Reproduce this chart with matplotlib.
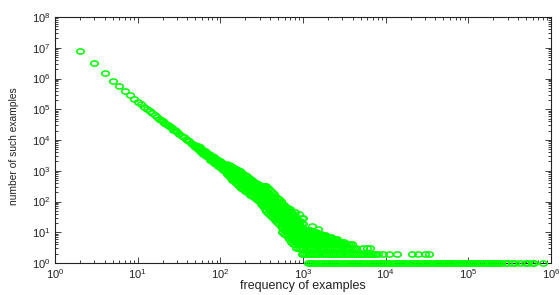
import matplotlib
matplotlib.use("Agg")
import matplotlib.pyplot as plt
from matplotlib.path import Path
import matplotlib.transforms as mtrans
from matplotlib.ticker import LogLocator, NullFormatter, LogFormatterMathtext

plt.rcParams['font.family'] = ['Liberation Sans', 'DejaVu Sans']
plt.rcParams['mathtext.fontset'] = 'custom'
plt.rcParams['mathtext.rm'] = 'Liberation Sans'
plt.rcParams['mathtext.it'] = 'Liberation Sans:italic'
plt.rcParams['mathtext.bf'] = 'Liberation Sans:bold'

# ---------------- data ----------------
head_freq = [2, 3, 4, 5, 6, 7, 8, 9, 10, 11, 12, 13, 14, 15, 16, 17, 18, 19, 20]
head_count = [7.8e6, 3.2e6, 1.5e6, 8.5e5, 5.7e5, 4.0e5, 2.9e5, 2.2e5, 1.75e5, 1.43e5,
              1.18e5, 1.0e5, 8.5e4, 7.3e4, 6.4e4, 5.6e4, 5.0e4, 4.4e4, 4.0e4]

band_freq = [21, 22, 23, 24, 25, 26, 27, 28, 29, 30, 32, 34, 36, 38, 40, 42, 44, 46, 48, 50,
             53, 56, 59, 62, 65, 68, 72, 76, 80, 84, 88, 93, 98, 103, 108, 114, 120, 126, 133, 140,
             147, 155, 163, 171, 180, 189, 199, 209, 220, 231, 243, 255, 268, 282, 296, 311, 327, 344, 361, 380,
             399, 419, 440, 462, 486, 510, 536, 563, 591, 621, 652, 685, 719, 755, 793, 833, 875, 919, 965, 1013]
band_count = [36300, 33100, 30200, 27800, 25600, 23700, 21900, 20400, 19000, 17800, 15600, 13800, 12300, 11100, 10000, 9070, 8260, 7560, 6940, 6400,
              5700, 5100, 4600, 4160, 3790, 3460, 3090, 2770, 2500, 2270, 2070, 1850, 1670, 1510, 1370, 1230, 1110, 1010, 905, 816,
              740, 666, 602, 547, 494, 448, 404, 366, 331, 300, 271, 246, 223, 201, 183, 165, 150, 135, 123, 107,
              93, 81, 71, 62, 53, 47, 41, 35, 31, 27, 24, 20, 18, 16, 14, 12, 10, 9, 8, 7]

# band edges (upper / lower spread of the cloud), same frequencies as the band from a start index
upper1_count = [7040, 6330, 5710, 5200, 4740, 4360, 4010, 3620, 3270, 2980, 2720, 2500, 2260, 2060, 1880, 1720,
                1560, 1420, 1300, 1180, 1080, 977, 879, 795, 722, 652, 591, 533, 483, 437, 396, 358, 325, 294,
                265, 242, 218, 198, 178, 162, 141, 123, 107, 94, 82, 70, 62, 54, 46, 41, 36, 32, 26, 24, 21, 18,
                16, 13, 12, 11, 9]
lower1_count = [5820, 5130, 4540, 4050, 3620, 3260, 2940, 2600, 2300, 2050, 1840, 1660, 1470, 1320, 1190, 1070,
                955, 860, 780, 696, 620, 562, 506, 458, 416, 375, 340, 307, 278, 252, 228, 206, 187, 169, 153,
                139, 125, 114, 103, 93, 81, 71, 62, 54, 47, 40, 36, 31, 27, 24, 21, 18, 15, 14, 12, 11, 9, 8, 7,
                6, 5]
upper2_count = [1610, 1515, 1400, 1306, 1220, 1130, 1050, 974, 879, 797, 719, 651, 589, 534, 482, 438, 397, 358,
                326, 294, 267, 240, 219, 190, 166, 144, 126, 110, 94, 84, 73, 62, 55, 48, 43, 36, 32, 28, 25, 21,
                18, 16, 14, 12]
lower2_count = [766, 677, 584, 510, 448, 393, 346, 306, 277, 251, 226, 205, 185, 168, 152, 138, 125, 113, 102, 92,
                84, 76, 69, 60, 52, 45, 40, 35, 30, 26, 23, 20, 17, 15, 13, 11, 10, 9, 8, 7, 6, 5, 4, 4]
upper3_count = [330, 323, 310, 308, 268, 233, 203, 178, 155, 133, 118, 103, 88, 78, 68, 60, 50, 45, 40, 35, 30,
                25, 23, 20, 18]
lower3_count = [83, 69, 57, 49, 43, 37, 32, 28, 25, 21, 19, 16, 14, 12, 11, 10, 8, 7, 6, 6, 5, 4, 4, 3, 3]
lower4_count = [10, 9, 8, 7, 6, 5, 4, 4, 3, 3, 3, 2, 2]

upper1_freq = band_freq[19:]
lower1_freq = band_freq[19:]
upper2_freq = band_freq[36:]
lower2_freq = band_freq[36:]
upper3_freq = band_freq[55:]
lower3_freq = band_freq[55:]
lower4_freq = band_freq[67:]

outlier_freq = [700, 800, 900, 960, 1000, 1300, 1500]
outlier_count = [55, 45, 38, 30, 28, 16, 13]

# rows of small integer counts beyond ~1000
tail_grid = [1080, 1150, 1220, 1290, 1370, 1450, 1540, 1630, 1730, 1830, 1940, 2060, 2180, 2310, 2450,
             2600, 2750, 2920, 3100, 3280, 3480, 3690, 3910, 4140, 4390]
tail_row_count = [3, 4, 5, 6, 7, 8, 9, 10, 11, 12]
tail_row_maxfreq = [4390, 3910, 3100, 2600, 2180, 1830, 1630, 1450, 1290, 1220]
row3_extra_freq = [5300, 5900, 6500]

row2_freq = [1050, 1110, 1180, 1250, 1330, 1410, 1490, 1580, 1680, 1780, 1880, 2000, 2120, 2240, 2380, 2520,
             2670, 2830, 3000, 3180, 3370, 3570, 3790, 4010, 4250, 4510, 4780, 5070, 5370, 5690, 6030, 6400,
             6780, 7180, 7610, 8070, 9300, 10900, 13600, 20700, 24500, 29600, 33300]

row1_freq = [1150, 1220, 1290, 1370, 1450, 1540, 1630, 1730, 1830, 1940, 2060, 2180, 2310, 2450, 2600, 2750,
             2920, 3100, 3280, 3480, 3690, 3910, 4140, 4390, 4650, 4930, 5230, 5540, 5870, 6230, 6600, 7000,
             7420, 7860, 8330, 8830, 9360, 9920, 10500, 11100, 11800, 12500, 13300, 14100, 14900, 15800, 16800,
             17800, 18900, 20000, 21200, 22500, 23800, 25200, 26700, 28300, 30000, 31800, 33700, 35700, 37900,
             40200, 42600, 45100, 47800, 50700, 53700, 56900, 60300, 64000, 67800, 71900, 76200, 80700, 85600,
             90700, 96200, 102000, 108000, 114000, 121000, 129000, 136000, 148000, 160000, 170000, 180000,
             190000, 200000, 212000, 225000, 238000, 251000, 275000, 302000, 339000, 363000, 417000, 479000,
             525000, 589000, 631000, 794000]

x_label = "frequency of examples"
y_label = "number of such examples"

# ---------------- figure ----------------
fig = plt.figure(figsize=(5.6, 2.95), dpi=100)
ax = fig.add_axes([55 / 560, 1 - 263 / 295, (551 - 55) / 560, (263 - 17) / 295])

ell = Path.unit_circle().transformed(mtrans.Affine2D().scale(1.45, 1.0))
green = '#00ff00'
style = dict(linestyle='none', marker=ell, mfc='none', mec=green, ms=5.4, mew=1.1,
             clip_on=False, zorder=3)

series = [
    (head_freq, head_count),
    (band_freq, band_count),
    (upper1_freq, upper1_count),
    (lower1_freq, lower1_count),
    (upper2_freq, upper2_count),
    (lower2_freq, lower2_count),
    (upper3_freq, upper3_count),
    (lower3_freq, lower3_count),
    (lower4_freq, lower4_count),
    (outlier_freq, outlier_count),
]
for fx, fy in series:
    ax.plot(fx, fy, **style)

for cnt, fmax in zip(tail_row_count, tail_row_maxfreq):
    xs = [f for f in tail_grid if f <= fmax]
    ax.plot(xs, [cnt] * len(xs), **style)
ax.plot(row3_extra_freq, [3] * len(row3_extra_freq), **style)
ax.plot(row2_freq, [2] * len(row2_freq), **style)
ax.plot(row1_freq, [1] * len(row1_freq), **style)

ax.set_xscale('log')
ax.set_yscale('log')
ax.set_xlim(1, 1e6)
ax.set_ylim(1, 1e8)
ax.xaxis.set_major_locator(LogLocator(base=10, numticks=20))
ax.yaxis.set_major_locator(LogLocator(base=10, numticks=20))
ax.xaxis.set_minor_locator(LogLocator(base=10, subs=range(2, 10), numticks=20))
ax.yaxis.set_minor_locator(LogLocator(base=10, subs=range(2, 10), numticks=20))
ax.xaxis.set_minor_formatter(NullFormatter())
ax.yaxis.set_minor_formatter(NullFormatter())
ax.xaxis.set_major_formatter(LogFormatterMathtext())
ax.yaxis.set_major_formatter(LogFormatterMathtext())

ax.tick_params(which='both', direction='in', top=True, right=True, color='#222222',
               labelsize=8, labelcolor='#222222', width=0.6)
ax.tick_params(which='major', length=4, pad=3)
ax.tick_params(which='minor', length=2)
for sp in ax.spines.values():
    sp.set_linewidth(0.8)
    sp.set_color('#222222')

fig.text(303 / 560, 1 - 286 / 295, x_label, ha='center', va='center', fontsize=9, color='#222222')
fig.text(14 / 560, 1 - 146 / 295, y_label, ha='center', va='center', rotation=90,
         fontsize=7.4, color='#222222')

fig.savefig('out.png', dpi=100)
